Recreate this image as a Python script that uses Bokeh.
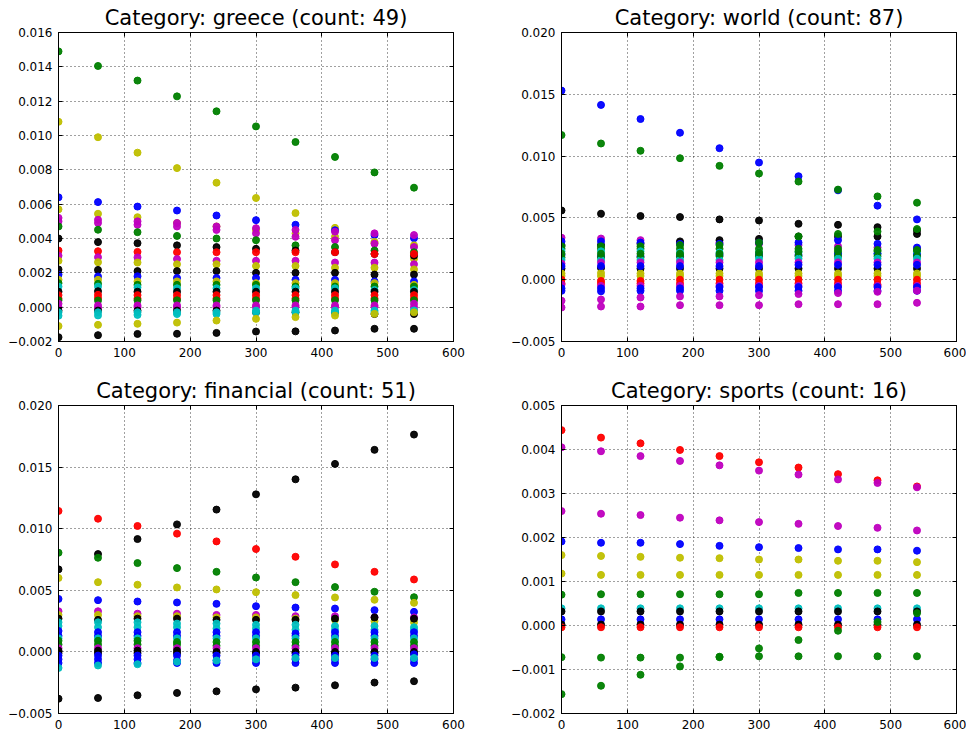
from bokeh.plotting import figure
from bokeh.layouts import gridplot
from bokeh.models import (LinearAxis, FixedTicker, CustomJSTickFormatter,
                          Range1d, ColumnDataSource)
from bokeh.embed import file_html
from bokeh.resources import INLINE

# ---------------- data ----------------
X_VALUES = [0, 60, 120, 180, 240, 300, 360, 420, 480, 540]
X_TICKS = [0, 100, 200, 300, 400, 500, 600]

COLOR_MAP = {"b": "#0000ff", "g": "#008000", "r": "#ff0000", "c": "#00bfbf",
             "m": "#bf00bf", "y": "#bfbf00", "k": "#000000"}

GREECE_TITLE = "Category: greece (count: 49)"
GREECE_YTICKS = [-0.002, 0.0, 0.002, 0.004, 0.006, 0.008, 0.010, 0.012, 0.014, 0.016]
GREECE_COLORS = ["g", "y", "b", "y", "m", "m", "g", "k", "r", "m", "y", "k", "b", "y",
                 "g", "c", "k", "r", "r", "g", "m", "m", "k", "c", "c", "y", "k"]
GREECE_VALUES = [
    [0.0149, 0.01405, 0.0132, 0.01228, 0.01141, 0.01053, 0.00962, 0.00875, 0.00785, 0.00696],
    [0.0108, 0.0099, 0.0090, 0.0081, 0.00725, 0.00636, 0.00548, 0.00462, 0.00373, 0.00282],
    [0.0064, 0.00612, 0.00586, 0.00563, 0.00534, 0.00507, 0.0048, 0.00448, 0.0042, 0.00402],
    [0.0057, 0.00544, 0.00524, 0.0049, 0.0047, 0.0045, 0.0043, 0.0041, 0.0038, 0.0036],
    [0.0052, 0.00509, 0.0050, 0.0049, 0.0047, 0.0046, 0.0045, 0.0044, 0.0043, 0.0042],
    [0.0050, 0.00491, 0.0048, 0.0047, 0.0045, 0.0043, 0.0041, 0.0039, 0.0037, 0.0035],
    [0.0047, 0.00451, 0.00437, 0.00415, 0.0040, 0.0039, 0.0036, 0.0035, 0.0033, 0.0032],
    [0.0040, 0.00379, 0.00373, 0.0036, 0.0035, 0.0034, 0.0033, 0.0032, 0.0031, 0.0030],
    [0.0033, 0.00326, 0.00322, 0.0032, 0.0032, 0.0032, 0.0032, 0.0032, 0.0031, 0.0031],
    [0.0030, 0.00291, 0.0029, 0.0028, 0.0027, 0.0027, 0.0027, 0.0026, 0.0026, 0.0025],
    [0.0027, 0.00262, 0.0026, 0.0025, 0.0025, 0.0024, 0.0024, 0.0023, 0.0023, 0.0022],
    [0.0022, 0.00217, 0.0021, 0.0021, 0.0021, 0.0020, 0.0020, 0.0020, 0.0019, 0.0019],
    [0.0019, 0.00179, 0.0018, 0.0017, 0.0017, 0.0017, 0.0016, 0.0016, 0.0015, 0.0015],
    [0.0016, 0.00159, 0.0015, 0.0015, 0.0015, 0.0014, 0.0014, 0.0014, 0.0014, 0.0013],
    [0.0014, 0.00136, 0.0013, 0.0013, 0.0013, 0.0013, 0.0012, 0.0012, 0.0012, 0.0012],
    [0.0012, 0.0012, 0.00115, 0.0011, 0.0011, 0.0011, 0.0011, 0.0011, 0.0010, 0.0010],
    [0.0009, 0.00093, 0.0009, 0.0009, 0.0009, 0.0009, 0.0009, 0.0009, 0.0009, 0.0009],
    [0.0007, 0.00072, 0.0007, 0.0007, 0.0007, 0.0007, 0.0007, 0.0007, 0.0007, 0.0007],
    [0.0005, 0.00054, 0.0005, 0.0005, 0.0005, 0.0005, 0.0005, 0.0005, 0.0005, 0.0005],
    [0.0004, 0.00039, 0.0004, 0.0004, 0.0004, 0.0004, 0.0004, 0.0004, 0.0004, 0.0004],
    [0.0002, 0.0001, 0.0001, 0.0001, 0.0001, 0.0001, 0.0001, 0.0001, 0.0001, 0.0002],
    [0.0000, -0.00004, 0.0000, 0.0000, 0.0000, 0.0000, 0.0000, 0.0000, 0.0000, 0.0000],
    [-0.0002, -0.0002, -0.0002, -0.0002, -0.0002, -0.0003, -0.0003, -0.0003, -0.0004, -0.0004],
    [-0.0003, -0.0003, -0.0003, -0.0003, -0.0003, -0.0002, -0.0002, -0.0002, -0.0002, -0.0002],
    [-0.0005, -0.00048, -0.00045, -0.0004, -0.0004, -0.0003, -0.0003, -0.0003, -0.0003, -0.0002],
    [-0.0011, -0.00103, -0.00097, -0.0009, -0.00078, -0.00068, -0.00058, -0.00049, -0.00039, -0.0003],
    [-0.00175, -0.00163, -0.00156, -0.00155, -0.0015, -0.00142, -0.00141, -0.00136, -0.00126, -0.00126],
]

WORLD_TITLE = "Category: world (count: 87)"
WORLD_YTICKS = [-0.005, 0.0, 0.005, 0.010, 0.015, 0.020]
WORLD_COLORS = ["b", "g", "k", "m", "k", "b", "g", "g", "c", "b", "g", "c", "m", "k",
                "y", "y", "r", "r", "m", "b", "b", "m", "m", "b", "g"]
WORLD_VALUES = [
    [0.0153, 0.01414, 0.0130, 0.01189, 0.01064, 0.00948, 0.00837, 0.00723, 0.00599, 0.00488],
    [0.0117, 0.01102, 0.01043, 0.00983, 0.00921, 0.00859, 0.00794, 0.00729, 0.00674, 0.00623],
    [0.0056, 0.00534, 0.00515, 0.00507, 0.00488, 0.00479, 0.00452, 0.00444, 0.00425, 0.00398],
    [0.0034, 0.00333, 0.0032, 0.0030, 0.0030, 0.0029, 0.0028, 0.0027, 0.0026, 0.0025],
    [0.0028, 0.0028, 0.0029, 0.0031, 0.0032, 0.0033, 0.0035, 0.0035, 0.0035, 0.0037],
    [0.0031, 0.0031, 0.0030, 0.0029, 0.0029, 0.0030, 0.0030, 0.0032, 0.0029, 0.0026],
    [0.0027, 0.0027, 0.0027, 0.0028, 0.0028, 0.0030, 0.0035, 0.0037, 0.0039, 0.0041],
    [0.0025, 0.0025, 0.0025, 0.0025, 0.0025, 0.0025, 0.0025, 0.0025, 0.0023, 0.0023],
    [0.0023, 0.0023, 0.0023, 0.0022, 0.0022, 0.0022, 0.0022, 0.0021, 0.0021, 0.0021],
    [0.0020, 0.0019, 0.0019, 0.0019, 0.0020, 0.0020, 0.0020, 0.0021, 0.0021, 0.0020],
    [0.0018, 0.0018, 0.0018, 0.0019, 0.0019, 0.0019, 0.0019, 0.0019, 0.0019, 0.0019],
    [0.0016, 0.0016, 0.0016, 0.0016, 0.0016, 0.0017, 0.0017, 0.0017, 0.0017, 0.0017],
    [0.0013, 0.0014, 0.0014, 0.0014, 0.0014, 0.0014, 0.0014, 0.0014, 0.0014, 0.0014],
    [0.0009, 0.00095, 0.0009, 0.0009, 0.0009, 0.0009, 0.0009, 0.0009, 0.0009, 0.0009],
    [0.0005, 0.00055, 0.0005, 0.0005, 0.0005, 0.0005, 0.0005, 0.0005, 0.0005, 0.0005],
    [0.0003, 0.0003, 0.0003, 0.0003, 0.0003, 0.0003, 0.0003, 0.0003, 0.0003, 0.0003],
    [0.0000, -0.0001, -0.0001, 0.0000, 0.0000, 0.0000, 0.0000, 0.0000, 0.0000, 0.0000],
    [-0.0003, -0.0003, -0.0003, -0.0003, -0.0003, -0.0003, -0.0003, -0.0003, -0.0004, -0.0003],
    [-0.0004, -0.0005, -0.0005, -0.0005, -0.0005, -0.0005, -0.0005, -0.0005, -0.0005, -0.0005],
    [-0.0007, -0.0007, -0.0007, -0.0007, -0.0006, -0.0006, -0.0006, -0.0006, -0.0006, -0.0006],
    [-0.0009, -0.00094, -0.0009, -0.0009, -0.0009, -0.0009, -0.0009, -0.0009, -0.0009, -0.0009],
    [-0.0017, -0.0016, -0.00144, -0.00135, -0.00135, -0.00125, -0.00116, -0.00108, -0.00098, -0.00089],
    [-0.00225, -0.00217, -0.00217, -0.00206, -0.00206, -0.00206, -0.00198, -0.00198, -0.00198, -0.00187],
    [0.0011, 0.0011, 0.0011, 0.0011, 0.0011, 0.0011, 0.0012, 0.0012, 0.0012, 0.0012],
    [0.0021, 0.0021, 0.0021, 0.0021, 0.0021, 0.0022, 0.0023, 0.0023, 0.0024, 0.0024],
]

FINANCIAL_TITLE = "Category: financial (count: 51)"
FINANCIAL_YTICKS = [-0.005, 0.0, 0.005, 0.010, 0.015, 0.020]
FINANCIAL_COLORS = ["k", "r", "g", "y", "b", "k", "m", "y", "k", "c", "c", "b", "b", "c",
                    "g", "g", "m", "k", "k", "b", "b", "b", "c"]
FINANCIAL_VALUES = [
    [0.0067, 0.00794, 0.00916, 0.01035, 0.01155, 0.01279, 0.01401, 0.01526, 0.0164, 0.01764],
    [0.01144, 0.01081, 0.01022, 0.0096, 0.00897, 0.00835, 0.00772, 0.0071, 0.0065, 0.00588],
    [0.00805, 0.00764, 0.00721, 0.0068, 0.0065, 0.00604, 0.00566, 0.00526, 0.00488, 0.00444],
    [0.0060, 0.00566, 0.00545, 0.00523, 0.00507, 0.00485, 0.00461, 0.00442, 0.00423, 0.00398],
    [0.0043, 0.0042, 0.00409, 0.00401, 0.0039, 0.00371, 0.0036, 0.00352, 0.00339, 0.00325],
    [-0.0038, -0.00374, -0.00352, -0.00333, -0.0032, -0.00304, -0.0029, -0.00271, -0.00249, -0.00238],
    [0.0033, 0.0033, 0.0031, 0.0031, 0.0030, 0.0030, 0.0029, 0.0029, 0.0028, 0.0028],
    [0.0030, 0.0030, 0.0029, 0.0029, 0.0028, 0.0028, 0.0027, 0.0026, 0.0025, 0.0024],
    [0.0027, 0.0026, 0.0027, 0.0027, 0.0026, 0.0026, 0.0026, 0.0027, 0.0028, 0.0027],
    [0.0024, 0.0024, 0.0024, 0.0023, 0.0023, 0.0022, 0.0022, 0.0021, 0.0021, 0.0020],
    [0.0021, 0.0020, 0.0020, 0.0020, 0.0019, 0.0019, 0.0018, 0.0018, 0.0018, 0.0018],
    [0.0017, 0.0016, 0.0016, 0.0016, 0.0016, 0.0016, 0.0015, 0.0016, 0.0016, 0.0016],
    [0.0013, 0.0013, 0.0013, 0.0013, 0.0013, 0.0013, 0.0013, 0.0013, 0.0013, 0.0013],
    [0.0011, 0.0011, 0.0011, 0.0011, 0.0011, 0.0011, 0.0011, 0.0011, 0.0011, 0.0011],
    [0.0009, 0.0009, 0.0009, 0.0008, 0.0008, 0.0008, 0.0008, 0.0008, 0.0008, 0.0008],
    [0.0006, 0.0006, 0.0006, 0.0006, 0.0005, 0.0005, 0.0005, 0.0005, 0.0005, 0.0005],
    [0.0003, 0.0003, 0.0003, 0.0003, 0.0003, 0.0003, 0.0003, 0.0003, 0.0003, 0.0003],
    [0.0001, 0.0001, 0.0001, 0.0001, 0.0000, 0.0000, 0.0000, 0.0000, 0.0000, 0.0000],
    [-0.0001, -0.0001, -0.0001, -0.0001, -0.0001, -0.0001, -0.0001, -0.0001, -0.0001, -0.0001],
    [-0.0003, -0.0003, -0.0003, -0.0003, -0.0003, -0.0003, -0.0003, -0.0003, -0.0003, -0.0002],
    [-0.0006, -0.0006, -0.0006, -0.0007, -0.0007, -0.0006, -0.0006, -0.0006, -0.0006, -0.0006],
    [-0.0009, -0.0009, -0.0009, -0.0009, -0.0009, -0.0009, -0.0009, -0.0009, -0.0009, -0.0009],
    [-0.0013, -0.0011, -0.0010, -0.0008, -0.0007, -0.0006, -0.0005, -0.0005, -0.0005, -0.0005],
]

SPORTS_TITLE = "Category: sports (count: 16)"
SPORTS_YTICKS = [-0.002, -0.001, 0.0, 0.001, 0.002, 0.003, 0.004, 0.005]
SPORTS_COLORS = ["r", "m", "m", "b", "y", "y", "g", "c", "k", "b", "k", "r", "g", "g"]
SPORTS_VALUES = [
    [0.00444, 0.00427, 0.00414, 0.00399, 0.00385, 0.00371, 0.00359, 0.00344, 0.0033, 0.00316],
    [0.00405, 0.00396, 0.00385, 0.00374, 0.00364, 0.00352, 0.00343, 0.00332, 0.00324, 0.00314],
    [0.0026, 0.00254, 0.00251, 0.00245, 0.00239, 0.00235, 0.00231, 0.00226, 0.00222, 0.00216],
    [0.00191, 0.00188, 0.00188, 0.00185, 0.00181, 0.00178, 0.00176, 0.00173, 0.00173, 0.0017],
    [0.0016, 0.00158, 0.00156, 0.00154, 0.00153, 0.0015, 0.0015, 0.00147, 0.00147, 0.00144],
    [0.00118, 0.00115, 0.00115, 0.00115, 0.00115, 0.00115, 0.00115, 0.00115, 0.00115, 0.00115],
    [0.0007, 0.00071, 0.00071, 0.00071, 0.00071, 0.00071, 0.00074, 0.00074, 0.00074, 0.00074],
    [0.00039, 0.00039, 0.00039, 0.00039, 0.00039, 0.00039, 0.00039, 0.00039, 0.00039, 0.00039],
    [0.00032, 0.00032, 0.00032, 0.00032, 0.00032, 0.00032, 0.00032, 0.00032, 0.00032, 0.00032],
    [0.00014, 0.00014, 0.00014, 0.00014, 0.00014, 0.00014, 0.00014, 0.00014, 0.00014, 0.00014],
    [0.00002, 0.00002, 0.00002, 0.00002, 0.00002, 0.00002, 0.00002, 0.00002, 0.00002, 0.00002],
    [-0.00004, -0.00004, -0.00004, -0.00004, -0.00004, -0.00004, -0.00004, -0.00004, -0.00004, -0.00004],
    [-0.00072, -0.00073, -0.00073, -0.00073, -0.00071, -0.0007, -0.0007, -0.0007, -0.0007, -0.0007],
    [-0.00156, -0.00137, -0.00112, -0.00093, -0.00072, -0.00052, -0.00033, -0.00012, 0.00008, 0.00028],
]

FONT = "DejaVu Sans"


def make_panel(title, colors, values, y_lo, y_hi, y_ticks, width, height, borders):
    left, right, top, bottom = borders
    p = figure(width=width, height=height, x_range=Range1d(0, 600),
               y_range=Range1d(y_lo, y_hi), output_backend="svg",
               toolbar_location=None, min_border_left=left, min_border_right=right,
               min_border_top=top, min_border_bottom=bottom,
               background_fill_color="white", border_fill_color="white")
    xs, ys, cs = [], [], []
    for col, vals in zip(colors, values):
        xs += X_VALUES
        ys += vals
        cs += [COLOR_MAP[col]] * len(vals)
    src = ColumnDataSource(dict(x=xs, y=ys, c=cs))
    p.scatter("x", "y", source=src, size=7, fill_color="c", line_color="c",
              fill_alpha=0.95, line_alpha=0.95)

    p.title.text = title
    p.title.align = "center"
    p.title.text_font = FONT
    p.title.text_font_size = "21px"
    p.title.text_font_style = "normal"
    p.title.text_color = "black"
    p.title.standoff = 5

    xt = FixedTicker(ticks=X_TICKS, minor_ticks=[])
    yt = FixedTicker(ticks=y_ticks, minor_ticks=[])
    yfmt = CustomJSTickFormatter(code="return tick.toFixed(3).replace('-', '\u2212');")
    xfmt = CustomJSTickFormatter(code="return tick.toFixed(0);")

    for ax in p.xaxis:
        ax.ticker = xt
        ax.formatter = xfmt
        ax.major_label_standoff = 6
    for ax in p.yaxis:
        ax.ticker = yt
        ax.formatter = yfmt
        ax.major_label_standoff = 6
    for ax in list(p.xaxis) + list(p.yaxis):
        ax.major_tick_in = 4
        ax.major_tick_out = 0
        ax.minor_tick_line_color = None
        ax.major_tick_line_color = "black"
        ax.axis_line_color = "black"
        ax.major_label_text_font = FONT
        ax.major_label_text_font_size = "12px"
        ax.major_label_text_color = "black"

    top_ax = LinearAxis(ticker=xt, major_label_text_font_size="1px",
                        major_label_text_color=None,
                        major_label_standoff=0, major_tick_in=4, major_tick_out=0,
                        minor_tick_line_color=None, axis_line_color="black")
    right_ax = LinearAxis(ticker=yt, major_label_text_font_size="1px",
                          major_label_text_color=None,
                          major_label_standoff=0, major_tick_in=4, major_tick_out=0,
                          minor_tick_line_color=None, axis_line_color="black")
    p.add_layout(top_ax, "above")
    p.add_layout(right_ax, "right")

    p.xgrid.ticker = xt
    p.ygrid.ticker = yt
    for g in (p.xgrid, p.ygrid):
        g.grid_line_color = "black"
        g.grid_line_dash = "1 3"
        g.grid_line_alpha = 0.75
        g.grid_line_width = 1

    p.outline_line_color = "black"
    p.outline_line_alpha = 1
    p.outline_line_width = 1
    return p


# page has no margin with Bokeh's template: frames at x 58/561, y 32/405
p1 = make_panel(GREECE_TITLE, GREECE_COLORS, GREECE_VALUES, -0.002, 0.016,
                GREECE_YTICKS, 483, 368, (58, 30, 32, 27))
p2 = make_panel(WORLD_TITLE, WORLD_COLORS, WORLD_VALUES, -0.005, 0.020,
                WORLD_YTICKS, 483, 368, (78, 10, 32, 27))
p3 = make_panel(FINANCIAL_TITLE, FINANCIAL_COLORS, FINANCIAL_VALUES, -0.005, 0.020,
                FINANCIAL_YTICKS, 483, 368, (58, 30, 37, 23))
p4 = make_panel(SPORTS_TITLE, SPORTS_COLORS, SPORTS_VALUES, -0.002, 0.005,
                SPORTS_YTICKS, 483, 368, (78, 10, 37, 23))

grid = gridplot([[p1, p2], [p3, p4]], toolbar_location=None)

open("out.html", "w").write(file_html(grid, INLINE))
